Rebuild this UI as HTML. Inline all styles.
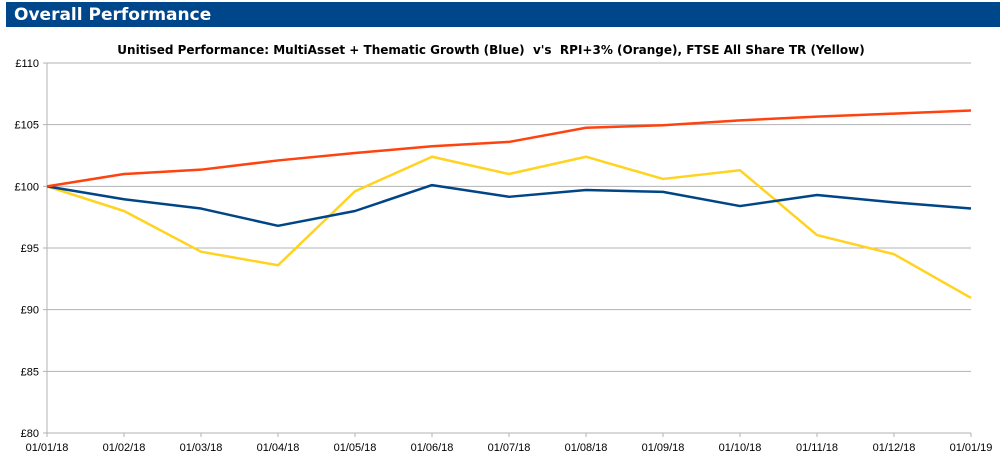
<!DOCTYPE html>
<html><head><meta charset="utf-8"><style>
body{margin:0;width:1004px;height:468px;background:#fff;font-family:"Liberation Sans",sans-serif;overflow:hidden;position:relative}
#hdr{position:absolute;left:6px;top:2px;width:994px;height:25px;background:#00468a;color:#fff;font-family:"DejaVu Sans",sans-serif;font-weight:bold;font-size:17px;line-height:26px;padding-left:8px;box-sizing:border-box}
svg{position:absolute;left:0;top:0}
#title{white-space:pre}
</style></head><body>
<div id="hdr">Overall Performance</div>
<svg id="chart" width="1004" height="468"></svg>
<script>
const categories=["01/01/18","01/02/18","01/03/18","01/04/18","01/05/18","01/06/18","01/07/18","01/08/18","01/09/18","01/10/18","01/11/18","01/12/18","01/01/19"];
const blueValues=[100,98.95,98.2,96.8,98.0,100.1,99.15,99.7,99.55,98.4,99.3,98.7,98.2];
const orangeValues=[100,101.0,101.35,102.1,102.7,103.25,103.6,104.75,104.95,105.35,105.65,105.9,106.15];
const yellowValues=[100,98.0,94.7,93.6,99.6,102.4,101.0,102.4,100.6,101.3,96.05,94.5,90.95];
const yTicks=[80,85,90,95,100,105,110];
const svg=document.getElementById('chart');const NS="http://www.w3.org/2000/svg";
const L=47,R=971,T=63,B=433,yMin=80,yMax=110;
const x=i=>L+(R-L)*i/(categories.length-1);
const y=v=>B-(v-yMin)/(yMax-yMin)*(B-T);
function mk(t,a){const e=document.createElementNS(NS,t);for(const k in a)e.setAttribute(k,a[k]);svg.appendChild(e);return e;}
let t=mk('text',{id:'title',x:491,y:54,'text-anchor':'middle','font-size':12,'font-weight':'bold','font-family':'DejaVu Sans, sans-serif'});


t.textContent="Unitised Performance: MultiAsset + Thematic Growth (Blue)  v's  RPI+3% (Orange), FTSE All Share TR (Yellow)";
yTicks.forEach(v=>{
 const g=mk('line',{x1:L-4,x2:R,y1:y(v),y2:y(v),stroke:'#b3b3b3','stroke-width':1});
 
 
 const tx=mk('text',{x:L-8,y:y(v)+4,'text-anchor':'end','font-size':11});
 
 
 tx.textContent='£'+v;
});
categories.forEach((c,i)=>{
 const l=mk('line',{x1:x(i),x2:x(i),y1:B,y2:B+4,stroke:'#b3b3b3'});
 
 
 const tx=mk('text',{x:x(i),y:B+18,'text-anchor':'middle','font-size':11});
 
 
 tx.textContent=c;
});
const ax=mk('line',{x1:L,x2:L,y1:T,y2:B,stroke:'#b3b3b3'});


[[yellowValues,'#ffd320','series-ftse'],[blueValues,'#004586','series-multiasset'],[orangeValues,'#ff420e','series-rpi']].forEach(([vals,col,name])=>{
 const p=mk('polyline',{points:vals.map((v,i)=>x(i)+','+y(v)).join(' '),fill:'none',stroke:col,'stroke-width':2.5,'stroke-linejoin':'round'});
 
 
});
</script>
</body></html>
